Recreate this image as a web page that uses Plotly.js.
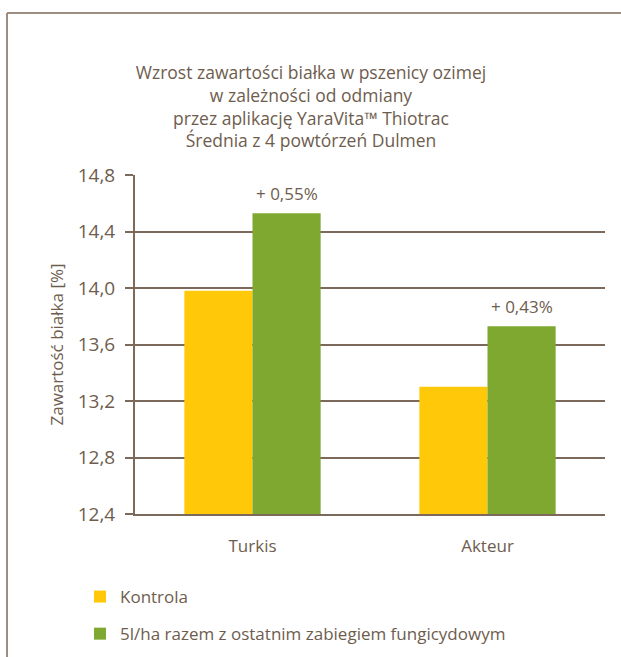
<!DOCTYPE html>
<html>
<head>
<meta charset="utf-8">
<script src="https://cdn.plot.ly/plotly-3.0.1.min.js"></script>
<style>html,body{margin:0;padding:0;background:#fff;}#chart{width:621px;height:657px;}</style>
</head>
<body>
<div id="chart"></div>
<script>
var categories = ['Turkis', 'Akteur'];
var kontrola = [13.98, 13.30];
var fungicyd = [14.53, 13.73];
var increaseLabels = ['+ 0,55%', '+ 0,43%'];
var seriesNames = ['Kontrola', '5l/ha razem z ostatnim zabiegiem fungicydowym'];
var yTicks = [12.4, 12.8, 13.2, 13.6, 14.0, 14.4, 14.8];

var txt = '#6e5d4e';
var grid = '#7b6a5b';
var frame = '#9d8e80';
var font = 'Open Sans, sans-serif';

var traces = [
  {type: 'bar', x: categories, y: kontrola, name: seriesNames[0], marker: {color: '#FFC90A'}, legendgroup: 'a', hoverinfo: 'y'},
  {type: 'bar', x: categories, y: fungicyd, name: seriesNames[1], marker: {color: '#7FA830'}, legendgroup: 'b', hoverinfo: 'y'}
];

var annotations = categories.map(function (c, i) {
  return {x: c, y: fungicyd[i], xref: 'x', yref: 'y', text: increaseLabels[i], showarrow: false,
    xshift: 34, yshift: 6, yanchor: 'bottom', font: {family: font, size: 17, color: txt}};
});

var W = 621, H = 657, L = 135, R = 16, T = 175, B = 143;
var pw = W - L - R, ph = H - T - B;
function px2x(p) { return (p - L) / pw; }
function py2y(p) { return (H - B - p) / ph; }

var layout = {
  width: W, height: H,
  margin: {l: L, r: R, t: T, b: B, autoexpand: false},
  paper_bgcolor: '#fff', plot_bgcolor: '#fff',
  font: {family: font, color: txt},
  separators: ', ',
  title: {
    text: 'Wzrost zawartości białka w pszenicy ozimej<br>w zależności od odmiany<br>przez aplikację YaraVita™ Thiotrac<br>Średnia z 4 powtórzeń Dulmen',
    font: {family: font, size: 17.5, color: txt},
    xref: 'container', x: 311 / W, xanchor: 'center',
    yref: 'container', y: 1 - 79 / H, yanchor: 'top'
  },
  barmode: 'group', bargap: 0.42, bargroupgap: 0,
  xaxis: {
    type: 'category', range: [-0.5, 1.5],
    showline: true, linecolor: grid, linewidth: 2,
    showgrid: false, ticks: '', ticklabelstandoff: 16,
    tickfont: {family: font, size: 17, color: txt}, fixedrange: true
  },
  yaxis: {
    range: [12.4, 14.8], tickvals: yTicks, tickformat: '.1f',
    showline: true, linecolor: grid, linewidth: 2,
    showgrid: true, gridcolor: grid, gridwidth: 2, zeroline: false,
    ticks: 'outside', ticklen: 8, tickwidth: 2, tickcolor: grid,
    ticklabelstandoff: 6,
    tickfont: {family: font, size: 19, color: txt},
    title: {text: 'Zawartość białka [%]', font: {family: font, size: 17, color: txt}, standoff: 10},
    fixedrange: true
  },
  showlegend: true,
  legend: {
    orientation: 'v', traceorder: 'grouped', tracegroupgap: 12,
    x: px2x(80), xanchor: 'left', y: py2y(579), yanchor: 'top',
    font: {family: font, size: 17, color: txt}, bgcolor: 'rgba(0,0,0,0)'
  },
  annotations: annotations,
  shapes: [
    {type: 'line', xref: 'paper', yref: 'paper', x0: px2x(7), x1: px2x(621), y0: py2y(13), y1: py2y(13), line: {color: frame, width: 2}},
    {type: 'line', xref: 'paper', yref: 'paper', x0: px2x(7), x1: px2x(7), y0: py2y(13), y1: py2y(657), line: {color: frame, width: 2}}
  ]
};

Plotly.newPlot('chart', traces, layout, {displayModeBar: false, staticPlot: false});
</script>
</body>
</html>
